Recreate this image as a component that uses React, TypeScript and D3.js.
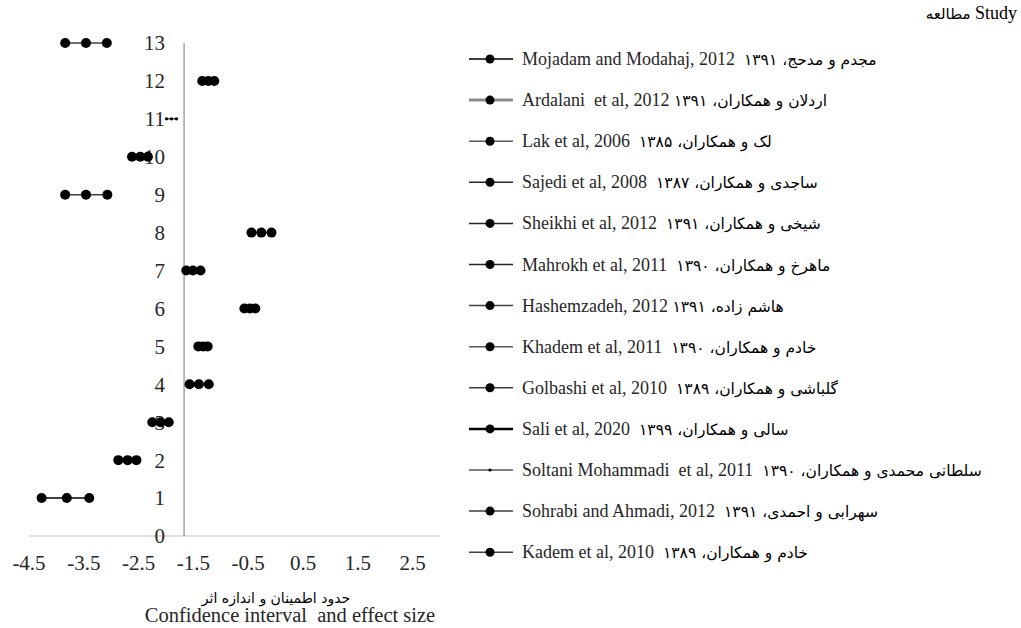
import React from "react";
import * as d3 from "d3";

const studiesEn = [
  "Mojadam and Modahaj, 2012  ",
  "Ardalani  et al, 2012 ",
  "Lak et al, 2006  ",
  "Sajedi et al, 2008  ",
  "Sheikhi et al, 2012  ",
  "Mahrokh et al, 2011  ",
  "Hashemzadeh, 2012 ",
  "Khadem et al, 2011  ",
  "Golbashi et al, 2010  ",
  "Sali et al, 2020  ",
  "Soltani Mohammadi  et al, 2011  ",
  "Sohrabi and Ahmadi, 2012  ",
  "Kadem et al, 2010  ",
];
const studiesFa = [
  "مجدم و مدحج، ۱۳۹۱",
  "اردلان و همکاران، ۱۳۹۱",
  "لک و همکاران، ۱۳۸۵",
  "ساجدی و همکاران، ۱۳۸۷",
  "شیخی و همکاران، ۱۳۹۱",
  "ماهرخ و همکاران، ۱۳۹۰",
  "هاشم زاده، ۱۳۹۱",
  "خادم و همکاران، ۱۳۹۰",
  "گلباشی و همکاران، ۱۳۸۹",
  "سالی و همکاران، ۱۳۹۹",
  "سلطانی محمدی و همکاران، ۱۳۹۰",
  "سهرابی و احمدی، ۱۳۹۱",
  "خادم و همکاران، ۱۳۸۹",
];
const rowIndex = [1, 2, 3, 4, 5, 6, 7, 8, 9, 10, 11, 12, 13];
const lower = [-4.27, -2.87, -2.25, -1.57, -1.41, -0.57, -1.63, -0.44, -3.84, -2.62, -1.99, -1.34, -3.84];
const effect = [-3.81, -2.7, -2.1, -1.4, -1.32, -0.47, -1.51, -0.26, -3.46, -2.47, -1.9, -1.23, -3.46];
const upper = [-3.4, -2.54, -1.95, -1.22, -1.24, -0.37, -1.37, -0.075, -3.07, -2.33, -1.81, -1.12, -3.08];

const xTicks = [-4.5, -3.5, -2.5, -1.5, -0.5, 0.5, 1.5, 2.5];
const yTicks = [0, 1, 2, 3, 4, 5, 6, 7, 8, 9, 10, 11, 12, 13];
const yAxisCross = -1.67;

const lineColors = ["#000", "#8c8c8c", "#595959", "#262626", "#262626", "#262626", "#404040", "#595959", "#404040", "#000", "#000", "#404040", "#404040"];
const lineWidths = [1.5, 3, 1.5, 1.5, 1.5, 1.5, 1.5, 1.5, 1.5, 2.5, 1, 1.5, 1.5];
const markerR = [5, 5, 5, 5, 5, 5, 5, 5, 5, 5, 1.7, 5, 5];

const SERIF = "'Liberation Serif', 'Times New Roman', serif";
const FA = "'DejaVu Sans', sans-serif";

export default function App() {
  const x = d3.scaleLinear().domain([-4.5, 3]).range([29, 440]);
  const y = d3.scaleLinear().domain([0, 13]).range([536, 43]);
  const line = d3
    .line<number>()
    .x((d) => x(d))
    .y(0);

  const legendX = 469;
  const legendY0 = 59;
  const legendStep = 41.1;

  return (
    <svg
      width={1021}
      height={628}
      style={{ position: "absolute", left: 0, top: 0, background: "#fff" }}
    >
      {/* axes */}
      <line x1={x(-4.5)} x2={x(3)} y1={y(0)} y2={y(0)} stroke="#bfbfbf" strokeWidth={1.2} />
      <line x1={x(yAxisCross)} x2={x(yAxisCross)} y1={y(0)} y2={y(13)} stroke="#8c8c8c" strokeWidth={1.2} />

      {xTicks.map((t) => (
        <text
          key={"xt" + t}
          x={x(t)}
          y={570}
          fontFamily={SERIF}
          fontSize={21}
          textAnchor="middle"
          fill="#262626"
        >
          {String(t)}
        </text>
      ))}
      {yTicks.map((t) => (
        <text
          key={"yt" + t}
          x={165}
          y={y(t)}
          dy="0.35em"
          fontFamily={SERIF}
          fontSize={21}
          textAnchor="end"
          fill="#262626"
        >
          {String(t)}
        </text>
      ))}

      {/* series */}
      {rowIndex.map((r, i) => {
        const pts = [lower[i], effect[i], upper[i]];
        return (
          <g key={"s" + i} transform={`translate(0,${y(r)})`}>
            <path d={line(pts) || ""} fill="none" stroke={lineColors[i]} strokeWidth={lineWidths[i]} />
            {pts.map((v, j) => (
              <circle key={j} cx={x(v)} cy={0} r={markerR[i]} fill="#000" />
            ))}
          </g>
        );
      })}

      {/* axis titles */}
      <text x={276} y={603} fontFamily={FA} fontSize={14} textAnchor="middle" fill="#000">
        حدود اطمینان و اندازه اثر
      </text>
      <text
        x={290}
        y={622}
        fontFamily={SERIF}
        fontSize={20.5}
        textAnchor="middle"
        fill="#262626"
        style={{ whiteSpace: "pre" }}
      >
        {"Confidence interval  and effect size"}
      </text>

      {/* legend title */}
      <text x={1017} y={19} fontFamily={SERIF} fontSize={18} textAnchor="end" fill="#000">
        <tspan fontFamily={FA} fontSize={15}>مطالعه</tspan>
        <tspan> Study</tspan>
      </text>

      {/* legend */}
      {studiesEn.map((s, i) => {
        const ly = legendY0 + i * legendStep;
        return (
          <g key={"l" + i}>
            <line x1={legendX} x2={legendX + 44} y1={ly} y2={ly} stroke={lineColors[i]} strokeWidth={lineWidths[i]} />
            <circle cx={legendX + 21} cy={ly} r={markerR[i] === 5 ? 4.5 : 1.6} fill="#000" />
            <text
              x={522}
              y={ly + 6}
              fontFamily={SERIF}
              fontSize={18}
              fill="#262626"
              style={{ whiteSpace: "pre" }}
            >
              <tspan>{s}</tspan>
              <tspan fontFamily={FA} fontSize={15.5} fill="#000">{studiesFa[i]}</tspan>
            </text>
          </g>
        );
      })}
    </svg>
  );
}
